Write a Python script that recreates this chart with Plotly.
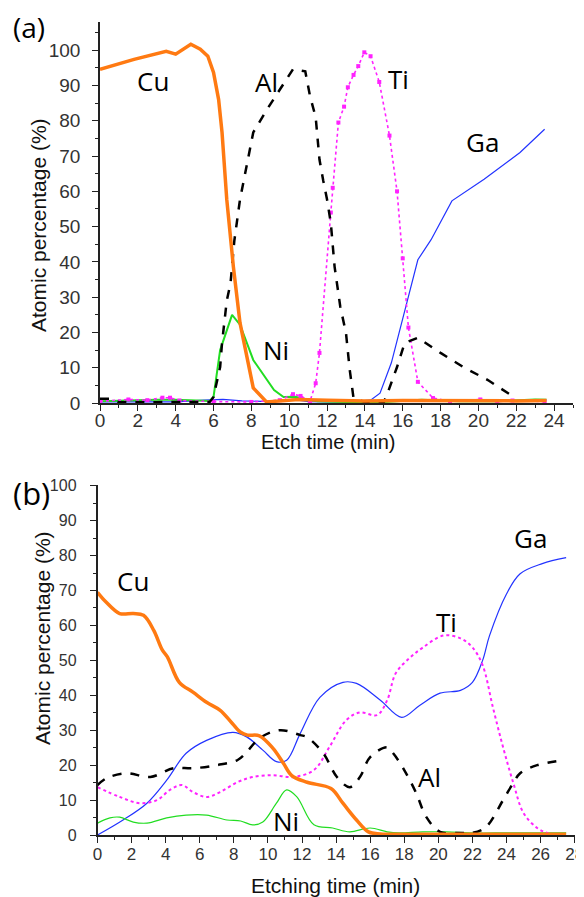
import plotly.graph_objects as go

# the page body adds an 8px margin, so the figure is positioned relative to that
OFF = 8
W, H = 584, 897

def px(x):
    return (x - OFF) / W

def py(y):
    return 1 - (y - OFF) / H

# ---------------- Panel (a) data ----------------
a_cu_x = [0, 1.8, 3.5, 4.0, 4.8, 5.3, 5.7, 6.0, 6.27, 6.45, 6.7, 7.05, 7.4, 8.1, 8.8, 9.5, 10.5, 12, 14, 16, 18, 20, 22, 23.6]
a_cu_y = [94.6, 97.4, 99.7, 98.9, 101.7, 100.3, 98.3, 93.7, 86, 76.7, 57.7, 38.6, 22.7, 4.3, 0.3, 0.5, 1.0, 0.8, 0.6, 0.7, 0.6, 0.7, 0.6, 0.7]

a_al_x = [0, 0.5, 1.0, 2, 3, 4, 5, 5.8, 6.0, 6.35, 6.45, 6.7, 6.9, 7.1, 7.4, 8.1, 8.8, 9.5, 10.2, 10.85, 11.1, 11.4, 11.6, 11.8, 12.0, 12.2, 12.4, 12.7, 13.0, 13.2, 13.4, 14, 15, 15.2, 15.7, 16.1, 16.8, 18, 19.2, 20.5, 21.7]
a_al_y = [1.2, 1.2, 0.2, 0.2, 0.2, 0.2, 0.2, 0.3, 1.7, 10.2, 17, 29, 34, 46, 57.7, 76.7, 83, 89, 94.6, 94, 87, 81, 69, 63, 57.7, 51, 38.6, 27.3, 19.9, 9.4, 1.4, 0.3, 0.3, 2.8, 10.2, 17, 18.5, 14.2, 10.2, 6.5, 2.3]

a_ti_x = [0, 1.5, 2.5, 3.3, 3.7, 4.2, 6, 8, 9.5, 10.2, 10.6, 11.1, 11.4, 11.6, 12.2, 12.3, 12.6, 12.9, 13.1, 13.4, 13.65, 13.97, 14.3, 14.76, 15.3, 15.7, 16.0, 16.3, 16.8, 17.6, 18.5, 20.1, 21.0, 21.8, 23.5]
a_ti_y = [0.5, 1.0, 0.8, 1.5, 1.5, 0.7, 0.4, 0.3, 0.8, 2.5, 2.0, 0.5, 5.6, 14.2, 54, 61, 79.5, 84, 89.5, 93, 95.5, 99.4, 98.3, 91, 75.8, 60, 41, 21.4, 6, 1.4, 0.5, 1.0, 0.4, 0.7, 0.4]

a_ga_x = [0, 2, 4, 5.5, 6.5, 7.5, 9, 10.2, 11, 12, 13, 14.3, 14.8, 15.4, 15.9, 16.3, 16.8, 17.5, 18.6, 20.3, 22.2, 23.5]
a_ga_y = [0.3, 0.3, 0.3, 0.8, 1.0, 0.6, 0.4, 1.0, 0.4, 0.3, 0.3, 0.8, 2.8, 11.4, 21.6, 30, 40.6, 46.3, 57.3, 63.4, 71, 77.6]

a_ni_x = [0, 1, 2, 3, 4, 5, 5.8, 6.0, 6.35, 6.98, 7.4, 8.1, 9.2, 9.7, 10.3, 10.8, 11.5, 13, 15, 17, 19, 21, 23, 23.6]
a_ni_y = [0.5, 0.7, 0.8, 0.9, 0.9, 0.7, 0.6, 1.7, 15, 25, 22.2, 12.2, 3.7, 1.7, 1.8, 1.2, 0.5, 0.3, 0.3, 0.9, 0.5, 0.5, 1.0, 0.9]

# ---------------- Panel (b) data ----------------
b_cu_x = [0, 0.5, 1.3, 2.1, 2.7, 3.3, 3.8, 4.1, 4.8, 5.6, 6.4, 7.2, 7.9, 8.4, 8.8, 9.5, 10.3, 10.9, 11.4, 12.3, 13.7, 14.4, 15.2, 15.9, 16.6, 18, 20, 22, 24, 26, 27.5]
b_cu_y = [69.5, 66.7, 63.4, 63.4, 62.9, 58.6, 53, 51, 43.7, 40.9, 38, 35.7, 32, 29.4, 28.6, 28.4, 24.8, 20.6, 17, 15.1, 13.3, 9.1, 4.3, 0.9, 0.3, 0.2, 0.2, 0.2, 0.2, 0.2, 0.2]

b_al_x = [0, 0.55, 1.7, 3.1, 4.45, 5.6, 7.0, 8.2, 8.75, 9.5, 10.7, 11.9, 12.3, 13.25, 14.05, 14.8, 15.4, 16.0, 17.0, 17.35, 18.0, 18.7, 19.3, 20.1, 21.3, 22.0, 22.8, 23.8, 24.4, 24.8, 25.8, 27.3]
b_al_y = [14.3, 16.3, 17.7, 16.6, 19.1, 19.1, 20, 21.4, 23.7, 27.7, 30, 28.6, 28, 23.4, 16.6, 13.7, 16.6, 22.3, 25.1, 23.4, 18.6, 12, 5.1, 0.9, 0.6, 0.6, 2.3, 10, 14.9, 17.7, 20, 21.4]

b_ga_x = [0, 1.5, 2.9, 4.06, 5.2, 6.4, 7.95, 8.75, 9.7, 10.5, 11.1, 11.9, 13.05, 14.4, 15.2, 16.6, 17.85, 18.9, 20.1, 21.3, 22.0, 22.6, 23.0, 24.0, 24.8, 26.1, 27.5]
b_ga_y = [0, 4.3, 9.1, 15.7, 23.4, 27.1, 29.4, 28.1, 24.3, 21, 21.4, 29.1, 39.4, 43.7, 43.4, 38.6, 33.7, 37.1, 40.6, 41.4, 43.7, 50, 57, 69, 74.8, 77.7, 79.4]

b_ti_x = [0, 1.3, 2.5, 3.5, 4.25, 4.95, 5.6, 6.4, 7.2, 8.2, 9.1, 10.3, 11.5, 12.7, 13.6, 14.6, 15.4, 16.4, 17.0, 17.5, 18.3, 19.1, 20.3, 21.3, 22.0, 22.6, 23.2, 23.8, 24.4, 25.0, 25.8, 26.4, 27.0]
b_ti_y = [13.7, 10.9, 9.1, 10, 12.9, 14.3, 12.3, 10.9, 12.3, 15.1, 16.6, 17.1, 16.6, 18.6, 25.1, 32.9, 35.1, 34.3, 38.6, 46.3, 50.6, 53.7, 57.1, 56.3, 53.7, 48.6, 36.6, 25.1, 14.9, 6.3, 2.0, 0.6, 0.2]

b_ni_x = [0, 0.73, 1.3, 2.1, 2.9, 4.06, 5.2, 6.4, 7.6, 8.4, 9.1, 9.7, 10.5, 11.1, 11.7, 12.7, 13.8, 14.8, 16.0, 17.0, 17.7, 19.1, 20.5, 22, 24, 26, 27.5]
b_ni_y = [3.4, 4.9, 5.1, 3.7, 3.4, 4.9, 5.7, 5.7, 4.3, 4.0, 2.9, 3.7, 9.1, 12.9, 10.9, 2.9, 2.0, 0.9, 2.0, 0.9, 0.6, 0.9, 0.9, 0.6, 0.6, 0.6, 0.6]

# labels
a_labels = ["Cu", "Al", "Ti", "Ga", "Ni"]
a_label_x = [2.8, 8.8, 15.8, 20.2, 9.3]
a_label_y = [91.2, 91.0, 91.8, 73.9, 15.0]
b_labels = ["Cu", "Ga", "Ti", "Al", "Ni"]
b_label_x = [2.1, 25.4, 20.5, 19.5, 11.05]
b_label_y = [72.6, 85.1, 61.1, 16.6, 4.0]

ORANGE = "#FF7A12"
MAGENTA = "#FF22FF"
BLUE = "#2233FF"
GREEN = "#22DD22"
BLACK = "#000000"

fig = go.Figure()

def add(x, y, color, width, dash, xa, ya, shape="linear", markers=False):
    fig.add_trace(go.Scatter(
        x=x, y=y, xaxis=xa, yaxis=ya,
        mode="lines+markers" if markers else "lines",
        line=dict(color=color, width=width, dash=dash, shape=shape),
        marker=dict(symbol="square", size=4, color=color),
        showlegend=False, hoverinfo="skip"))

# panel (a)
add(a_ga_x, a_ga_y, BLUE, 1.2, "solid", "x", "y")
add(a_ni_x, a_ni_y, GREEN, 2, "solid", "x", "y")
add(a_ti_x, a_ti_y, MAGENTA, 1.6, "dot", "x", "y", markers=True)
add(a_al_x, a_al_y, BLACK, 2.5, "dash", "x", "y")
add(a_cu_x, a_cu_y, ORANGE, 3.5, "solid", "x", "y")

# panel (b)
add(b_ga_x, b_ga_y, BLUE, 1.2, "solid", "x2", "y2", shape="spline")
add(b_ni_x, b_ni_y, GREEN, 1.2, "solid", "x2", "y2", shape="spline")
add(b_ti_x, b_ti_y, MAGENTA, 2, "dot", "x2", "y2", shape="spline")
add(b_al_x, b_al_y, BLACK, 2.5, "dash", "x2", "y2", shape="spline")
add(b_cu_x, b_cu_y, ORANGE, 3.5, "solid", "x2", "y2", shape="spline")

def axstyle(size):
    return dict(showline=True, linecolor="#222222", linewidth=1.5, ticks="outside",
                ticklen=6, tickwidth=1.3, tickcolor="#222222", showgrid=False,
                zeroline=False, mirror=False, ticklabeloverflow="allow",
                tickfont=dict(family="Liberation Sans, Arial", size=size, color="#333333"))

minor_x = dict(ticks="outside", dtick=1, ticklen=3, tickcolor="#222222")
minor_y = dict(ticks="outside", dtick=5, ticklen=3, tickcolor="#222222")

fig.update_layout(
    width=W, height=H, margin=dict(l=0, r=0, t=0, b=0, autoexpand=False),
    paper_bgcolor="white", plot_bgcolor="white",
    xaxis=dict(domain=[px(100), px(573)], range=[0, 25], anchor="y", tick0=0, dtick=2,
               ticklabelstandoff=-7, minor=minor_x, **axstyle(19)),
    yaxis=dict(domain=[py(403), py(22)], range=[0, 108], anchor="x", tick0=0, dtick=10,
               ticklabelstandoff=8, minor=minor_y, **axstyle(19)),
    xaxis2=dict(domain=[px(97.5), px(575)], range=[0, 28.02], anchor="y2", tick0=0, dtick=2,
                ticklabelstandoff=-3, minor=minor_x, **axstyle(17)),
    yaxis2=dict(domain=[py(835), py(485)], range=[0, 100.2], anchor="x2", tick0=0, dtick=10,
                ticklabelstandoff=10, minor=minor_y, **axstyle(16)),
)

labfont = dict(family="Open Sans, Liberation Sans", size=26, color="black")
for t, x, y in zip(a_labels, a_label_x, a_label_y):
    fig.add_annotation(text=t, x=x, y=y, xref="x", yref="y", showarrow=False, font=labfont,
                       xanchor="center", yanchor="middle")
for t, x, y in zip(b_labels, b_label_x, b_label_y):
    fig.add_annotation(text=t, x=x, y=y, xref="x2", yref="y2", showarrow=False, font=labfont,
                       xanchor="center", yanchor="middle")

titlefont = dict(family="Liberation Sans, Arial", size=21, color="#111111")
xtitlefont = dict(family="Liberation Sans, Arial", size=20, color="#111111")

def note(text, x, y, font, angle=0):
    fig.add_annotation(text=text, x=px(x), y=py(y), xref="paper", yref="paper",
                       xanchor="center", yanchor="middle", textangle=angle,
                       showarrow=False, font=font)

note("Atomic percentage (%)", 38, 225, titlefont, -90)
note("Atomic percentage (%)", 42, 638, titlefont, -90)
note("Etch time (min)", 328, 442, xtitlefont)
note("Etching time (min)", 335, 885, titlefont)
note("(a)", 29, 27, dict(family="Open Sans, Liberation Sans", size=28, color="black"))
note("(b)", 31, 493, dict(family="Open Sans, Liberation Sans", size=31, color="black"))

fig.write_html("out.html")
